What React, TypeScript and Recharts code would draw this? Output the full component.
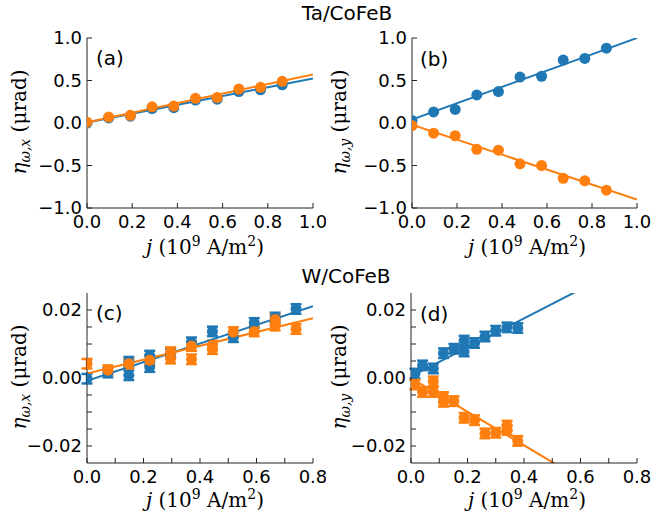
import { ComposedChart, Scatter, Line, XAxis, YAxis, ErrorBar } from 'recharts'

const BLUE = '#1f77b4'
const ORANGE = '#ff7f0e'
const AXIS = '#222'

// Ta/CoFeB, panels (a) and (b)
const taJ = [0, 0.096, 0.192, 0.288, 0.384, 0.48, 0.576, 0.672, 0.768, 0.864]
const taEtaXBlue = [0.0, 0.06, 0.08, 0.17, 0.18, 0.27, 0.28, 0.37, 0.39, 0.45]
const taEtaXOrange = [0.01, 0.07, 0.09, 0.19, 0.2, 0.29, 0.3, 0.4, 0.42, 0.49]
const taEtaYBlue = [0.03, 0.13, 0.16, 0.33, 0.37, 0.54, 0.55, 0.74, 0.76, 0.88]
const taEtaYOrange = [-0.03, -0.12, -0.15, -0.31, -0.32, -0.48, -0.5, -0.65, -0.68, -0.79]
const taFitJ = [0, 1]
const taFitXBlue = [0.005, 0.525]
const taFitXOrange = [0.01, 0.57]
const taFitYBlue = [0.04, 1.0]
const taFitYOrange = [-0.02, -0.9]

// W/CoFeB, panels (c) and (d)
const wXJBlue = [0, 0.074, 0.148, 0.148, 0.222, 0.222, 0.296, 0.37, 0.444, 0.518, 0.592, 0.666, 0.74]
const wXBlue = [-0.0002, 0.0016, 0.0008, 0.0048, 0.0032, 0.0066, 0.0072, 0.0105, 0.0137, 0.012, 0.0162, 0.0178, 0.0203]
const wXJOrange = [0, 0.074, 0.148, 0.222, 0.296, 0.296, 0.37, 0.37, 0.444, 0.444, 0.518, 0.592, 0.666, 0.666, 0.74]
const wXOrange = [0.0042, 0.0023, 0.0042, 0.0052, 0.0076, 0.0057, 0.0094, 0.0055, 0.0096, 0.0085, 0.0135, 0.0137, 0.0172, 0.0154, 0.0144]
const wYJBlue = [0.014, 0.041, 0.079, 0.115, 0.152, 0.188, 0.188, 0.225, 0.262, 0.3, 0.34, 0.378]
const wYBlue = [0.0013, 0.0037, 0.0028, 0.0073, 0.0086, 0.0078, 0.011, 0.0103, 0.0122, 0.0139, 0.0149, 0.0147]
const wYJOrange = [0.014, 0.041, 0.079, 0.079, 0.115, 0.115, 0.152, 0.188, 0.225, 0.262, 0.3, 0.34, 0.34, 0.378]
const wYOrange = [-0.0019, -0.0041, -0.001, -0.0041, -0.0056, -0.007, -0.0068, -0.0117, -0.0124, -0.0163, -0.0161, -0.014, -0.0153, -0.0185]
const wErr = 0.0014
const wFitJ = [0, 0.8]
const wFitXBlue = [-0.0008, 0.0211]
const wFitXOrange = [0.0013, 0.0176]
const wFitYBlue = [0.0005, 0.0346]
const wFitYOrange = [0.0, -0.0396]

const taTicksX = [0, 0.2, 0.4, 0.6, 0.8, 1.0]
const taTicksY = [-1, -0.5, 0, 0.5, 1]
const wTicksX = [0, 0.1, 0.2, 0.3, 0.4, 0.5, 0.6, 0.7, 0.8]
const wTicksY = [-0.02, -0.015, -0.01, -0.005, 0, 0.005, 0.01, 0.015, 0.02]

const pts = (xs: number[], ys: number[], e = 0) => xs.map((x, i) => ({ x, y: ys[i], e }))
const minus = (s: string) => s.replace('-', '\u2212')

const fmtTa = (v: number) => minus(v.toFixed(1))
const fmtWX = (v: number) => (Math.round(v * 10) % 2 === 0 ? v.toFixed(1) : '')
const fmtWY = (v: number) => (Math.round(v * 1000) % 20 === 0 ? minus(v.toFixed(2)) : '')

const dot = (color: string) => (p: any) => <circle cx={p.cx} cy={p.cy} r={5.5} fill={color} />

interface PanelProps {
  left: number
  top: number
  margin: { top: number; right: number; bottom: number; left: number }
  yAxisWidth: number
  xAxisHeight: number
  xDomain: [number, number]
  yDomain: [number, number]
  xTicks: number[]
  yTicks: number[]
  xFmt: (v: number) => string
  yFmt: (v: number) => string
  blue: { x: number; y: number; e: number }[]
  orange: { x: number; y: number; e: number }[]
  blueFit: { x: number; y: number; e: number }[]
  orangeFit: { x: number; y: number; e: number }[]
  errors?: boolean
}

function Panel(p: PanelProps) {
  const tickFont = { fontFamily: 'DejaVu Sans', fontSize: 18, fill: '#000' }
  return (
    <div style={{ position: 'absolute', left: p.left, top: p.top }}>
      <ComposedChart width={326} height={261} margin={p.margin}>
        <XAxis type="number" dataKey="x" domain={p.xDomain} ticks={p.xTicks} interval={0}
          tickFormatter={p.xFmt} height={p.xAxisHeight} tickSize={-5} tickMargin={12}
          stroke={AXIS} tick={tickFont} allowDataOverflow />
        <XAxis xAxisId="top" orientation="top" type="number" domain={p.xDomain} ticks={p.xTicks}
          interval={0} tickFormatter={() => ''} height={0} tickSize={-5} stroke={AXIS} />
        <YAxis type="number" dataKey="y" domain={p.yDomain} ticks={p.yTicks} interval={0}
          tickFormatter={p.yFmt} width={p.yAxisWidth} tickSize={-5} tickMargin={10}
          stroke={AXIS} tick={tickFont} allowDataOverflow />
        <YAxis yAxisId="right" orientation="right" type="number" domain={p.yDomain} ticks={p.yTicks}
          interval={0} tickFormatter={() => ''} width={0} tickSize={-5} stroke={AXIS} />
        <Scatter data={p.blue} fill={BLUE} shape={dot(BLUE)} isAnimationActive={false}>
          {p.errors && <ErrorBar dataKey="e" direction="y" width={5.5} stroke={BLUE} strokeWidth={2.5} />}
        </Scatter>
        <Scatter data={p.orange} fill={ORANGE} shape={dot(ORANGE)} isAnimationActive={false}>
          {p.errors && <ErrorBar dataKey="e" direction="y" width={5.5} stroke={ORANGE} strokeWidth={2.5} />}
        </Scatter>
        <Line data={p.blueFit} dataKey="y" type="linear" stroke={BLUE} strokeWidth={2} dot={false}
          isAnimationActive={false} />
        <Line data={p.orangeFit} dataKey="y" type="linear" stroke={ORANGE} strokeWidth={2} dot={false}
          isAnimationActive={false} />
      </ComposedChart>
    </div>
  )
}

const SERIF = 'DejaVu Serif'

function XLabel({ cx, y }: { cx: number; y: number }) {
  return (
    <text x={cx} y={y} textAnchor="middle" fontFamily={SERIF} fontSize={20} fill="#000">
      <tspan fontStyle="italic">j</tspan>
      <tspan>{' (10'}</tspan>
      <tspan dy={-8} fontSize={14}>9</tspan>
      <tspan dy={8}>{' A/m'}</tspan>
      <tspan dy={-8} fontSize={14}>2</tspan>
      <tspan dy={8}>)</tspan>
    </text>
  )
}

function YLabel({ x, cy, sub }: { x: number; cy: number; sub: string }) {
  return (
    <text x={x} y={cy} textAnchor="middle" transform={`rotate(-90 ${x} ${cy})`}
      fontFamily={SERIF} fontSize={20} fill="#000">
      <tspan fontStyle="italic">η</tspan>
      <tspan fontStyle="italic" fontSize={14} dy={4}>{sub}</tspan>
      <tspan dy={-4}>{' (μrad)'}</tspan>
    </text>
  )
}

export default function App() {
  const sans = { fontFamily: 'DejaVu Sans', fontSize: 20, fill: '#000' }
  const tag = { fontFamily: 'DejaVu Sans', fontSize: 20, fill: '#000' }
  return (
    <div style={{ position: 'absolute', left: 0, top: 0, width: 652, height: 522, background: '#fff' }}>
      <Panel left={0} top={0} margin={{ top: 38, right: 13, bottom: 0, left: 0 }} yAxisWidth={87} xAxisHeight={53}
        xDomain={[0, 1]} yDomain={[-1, 1]} xTicks={taTicksX} yTicks={taTicksY} xFmt={fmtTa} yFmt={fmtTa}
        blue={pts(taJ, taEtaXBlue)} orange={pts(taJ, taEtaXOrange)}
        blueFit={pts(taFitJ, taFitXBlue)} orangeFit={pts(taFitJ, taFitXOrange)} />
      <Panel left={326} top={0} margin={{ top: 38, right: 15, bottom: 0, left: 0 }} yAxisWidth={86} xAxisHeight={53}
        xDomain={[0, 1]} yDomain={[-1, 1]} xTicks={taTicksX} yTicks={taTicksY} xFmt={fmtTa} yFmt={fmtTa}
        blue={pts(taJ, taEtaYBlue)} orange={pts(taJ, taEtaYOrange)}
        blueFit={pts(taFitJ, taFitYBlue)} orangeFit={pts(taFitJ, taFitYOrange)} />
      <Panel left={0} top={261} margin={{ top: 32, right: 13, bottom: 0, left: 0 }} yAxisWidth={87} xAxisHeight={59}
        xDomain={[0, 0.8]} yDomain={[-0.025, 0.025]} xTicks={wTicksX} yTicks={wTicksY} xFmt={fmtWX} yFmt={fmtWY}
        blue={pts(wXJBlue, wXBlue, wErr)} orange={pts(wXJOrange, wXOrange, wErr)}
        blueFit={pts(wFitJ, wFitXBlue)} orangeFit={pts(wFitJ, wFitXOrange)} errors />
      <Panel left={326} top={261} margin={{ top: 32, right: 15, bottom: 0, left: 0 }} yAxisWidth={85} xAxisHeight={59}
        xDomain={[0, 0.8]} yDomain={[-0.025, 0.025]} xTicks={wTicksX} yTicks={wTicksY} xFmt={fmtWX} yFmt={fmtWY}
        blue={pts(wYJBlue, wYBlue, wErr)} orange={pts(wYJOrange, wYOrange, wErr)}
        blueFit={pts(wFitJ, wFitYBlue)} orangeFit={pts(wFitJ, wFitYOrange)} errors />
      <svg width={652} height={522} style={{ position: 'absolute', left: 0, top: 0, pointerEvents: 'none' }}>
        <text x={347} y={20} textAnchor="middle" {...sans}>Ta/CoFeB</text>
        <text x={346} y={283} textAnchor="middle" {...sans}>W/CoFeB</text>
        <text x={96} y={65} {...tag}>(a)</text>
        <text x={420} y={66} {...tag}>(b)</text>
        <text x={96} y={320} {...tag}>(c)</text>
        <text x={420} y={321} {...tag}>(d)</text>
        <XLabel cx={205} y={254} />
        <XLabel cx={527} y={254} />
        <XLabel cx={205} y={507} />
        <XLabel cx={527} y={507} />
        <YLabel x={26} cy={122} sub="ω,x" />
        <YLabel x={346} cy={122} sub="ω,y" />
        <YLabel x={26} cy={377} sub="ω,x" />
        <YLabel x={346} cy={377} sub="ω,y" />
      </svg>
    </div>
  )
}
